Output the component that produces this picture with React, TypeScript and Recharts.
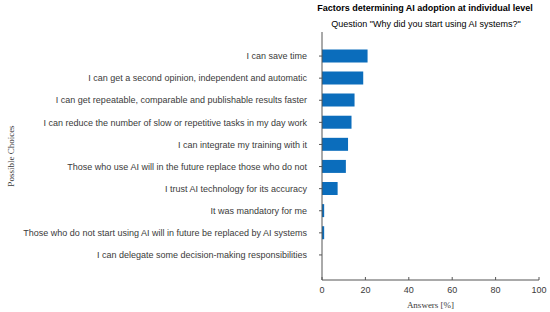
import { BarChart, Bar, XAxis, YAxis } from "recharts";

const choices = [
  "I can save time",
  "I can get a second opinion, independent and automatic",
  "I can get repeatable, comparable and publishable results faster",
  "I can reduce the number of slow or repetitive tasks in my day work",
  "I can integrate my training with it",
  "Those who use AI will in the future replace those who do not",
  "I trust AI technology for its accuracy",
  "It was mandatory for me",
  "Those who do not start using AI will in future be replaced by AI systems",
  "I can delegate some decision-making responsibilities",
];
const answers = [21, 19, 15, 13.6, 12, 11, 7.2, 1, 1, 0];
const xTicks = [0, 20, 40, 60, 80, 100];

const data = choices.map((choice, i) => ({ choice, value: answers[i] }));

const SANS = "'Liberation Sans', Arial, sans-serif";
const SERIF = "'Liberation Serif', 'Times New Roman', serif";
const AXIS = "#555";

// plain one-line tick, recharts' own Text wraps long labels
function ChoiceTick(props: any) {
  const { x, y, payload } = props;
  return (
    <text x={x} y={y} dy="0.355em" textAnchor="end" fontSize={9} fontFamily={SANS} fill="#3a3a3a">
      {payload.value}
    </text>
  );
}

export default function App() {
  return (
    <div style={{ position: "absolute", left: 0, top: 0, width: 550, height: 312, background: "#fff" }}>
      <div style={{ position: "absolute", left: 300, width: 250, top: 3, textAlign: "center", fontFamily: SANS, fontSize: 9, fontWeight: "bold", color: "#000", whiteSpace: "nowrap" }}>
        Factors determining AI adoption at individual level
      </div>
      <div style={{ position: "absolute", left: 300, width: 252, top: 19, textAlign: "center", fontFamily: SANS, fontSize: 9, color: "#000", whiteSpace: "nowrap" }}>
        Question "Why did you start using AI systems?"
      </div>
      <BarChart
        width={550}
        height={312}
        data={data}
        layout="vertical"
        margin={{ top: 32, right: 11, bottom: 0, left: 0 }}
        barCategoryGap="20%"
      >
        <XAxis
          type="number"
          domain={[0, 100]}
          ticks={xTicks}
          height={32}
          stroke={AXIS}
          tickSize={-3}
          tickMargin={10}
          tick={{ fontSize: 9, fontFamily: SANS, fill: "#3a3a3a" }}
          label={{ value: "Answers [%]", position: "insideBottom", offset: 4, fontSize: 9, fontFamily: SERIF, fill: "#3a3a3a" }}
        />
        <YAxis
          type="category"
          dataKey="choice"
          width={322}
          interval={0}
          stroke={AXIS}
          tickSize={3}
          tickMargin={12}
          padding={{ top: 13, bottom: 14 }}
          tick={<ChoiceTick />}
          label={{ value: "Possible Choices", angle: -90, position: "insideLeft", offset: 11, fontSize: 9, fontFamily: SERIF, fill: "#3a3a3a", style: { textAnchor: "middle" } }}
        />
        <Bar dataKey="value" fill="#0b6dbc" isAnimationActive={false} />
      </BarChart>
    </div>
  );
}
